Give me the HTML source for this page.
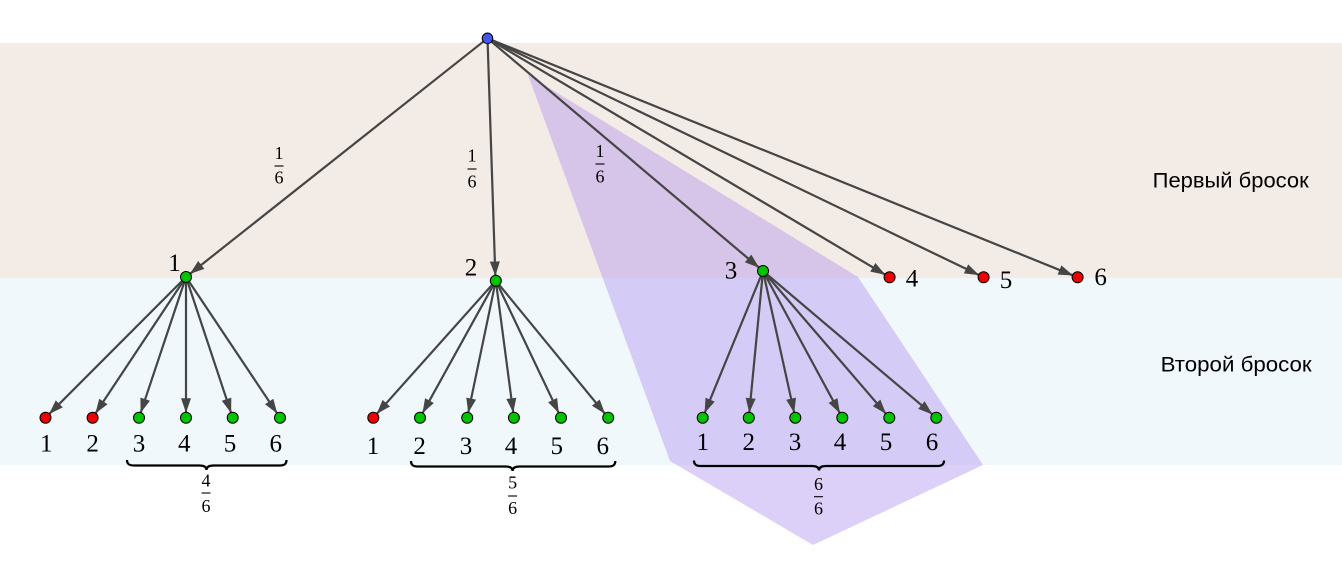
<!DOCTYPE html>
<html>
<head>
<meta charset="utf-8">
<style>
  html, body { margin:0; padding:0; background:#ffffff; }
  body { width:1342px; height:570px; overflow:hidden; }
  svg { display:block; }
  .lbl { font-family:"Liberation Serif", "DejaVu Serif", serif; font-size:25px; fill:#000; text-anchor:middle; }
  .frac { font-family:"Liberation Serif", "DejaVu Serif", serif; font-size:18px; fill:#000; text-anchor:middle; }
  .ru { font-family:"Liberation Sans", "DejaVu Sans", sans-serif; font-size:21px; fill:#000; }
  .e { stroke:#454545; stroke-width:2.2; fill:none; marker-end:url(#ah); }
  .g { fill:#00c400; stroke:#000; stroke-width:1; }
  .r { fill:#ee0000; stroke:#000; stroke-width:1; }
  .b { fill:#4455f0; stroke:#000; stroke-width:1; }
  .br { stroke:#000; stroke-width:2.3; fill:none; }
  .bar { stroke:#000; stroke-width:1.1; }
</style>
</head>
<body>
<svg width="1342" height="570" viewBox="0 0 1342 570" xmlns="http://www.w3.org/2000/svg">
  <defs>
    <marker id="ah" viewBox="-22 -10 22 20" refX="0" refY="0" markerWidth="22" markerHeight="20" markerUnits="userSpaceOnUse" orient="auto" overflow="visible">
      <path d="M -19.5,-5 L -5,0 L -19.5,5 Z" fill="#454545"/>
    </marker>
  </defs>

  <!-- bands -->
  <rect x="0" y="43" width="1342" height="235" fill="#f3ebe6"/>
  <rect x="0" y="278" width="1342" height="187" fill="#f0f8fc"/>

  <!-- purple polygon -->
  <polygon points="528,75 858,277 983,465 813,545 670,461" fill="rgba(170,138,238,0.4)"/>

  <!-- level 1 edges -->
  <line class="e" x1="487.5" y1="38.3" x2="186" y2="277"/>
  <line class="e" x1="487.5" y1="38.3" x2="495.5" y2="281"/>
  <line class="e" x1="487.5" y1="38.3" x2="763" y2="271"/>
  <line class="e" x1="487.5" y1="38.3" x2="889.6" y2="277.3"/>
  <line class="e" x1="487.5" y1="38.3" x2="983.6" y2="277.3"/>
  <line class="e" x1="487.5" y1="38.3" x2="1077.6" y2="277.3"/>

  <!-- tree 1 edges -->
  <line class="e" x1="186" y1="277" x2="45.5" y2="417.7"/>
  <line class="e" x1="186" y1="277" x2="92.6" y2="417.7"/>
  <line class="e" x1="186" y1="277" x2="139" y2="417.7"/>
  <line class="e" x1="186" y1="277" x2="186" y2="417.7"/>
  <line class="e" x1="186" y1="277" x2="232.7" y2="417.7"/>
  <line class="e" x1="186" y1="277" x2="280" y2="417.7"/>

  <!-- tree 2 edges -->
  <line class="e" x1="495.8" y1="280.7" x2="373.3" y2="417.7"/>
  <line class="e" x1="495.8" y1="280.7" x2="420" y2="417.7"/>
  <line class="e" x1="495.8" y1="280.7" x2="467.2" y2="417.7"/>
  <line class="e" x1="495.8" y1="280.7" x2="513.9" y2="417.7"/>
  <line class="e" x1="495.8" y1="280.7" x2="561" y2="417.7"/>
  <line class="e" x1="495.8" y1="280.7" x2="608.2" y2="417.7"/>

  <!-- tree 3 edges -->
  <line class="e" x1="763" y1="271" x2="702.7" y2="417.7"/>
  <line class="e" x1="763" y1="271" x2="748.8" y2="417.7"/>
  <line class="e" x1="763" y1="271" x2="795.3" y2="417.7"/>
  <line class="e" x1="763" y1="271" x2="842.3" y2="417.7"/>
  <line class="e" x1="763" y1="271" x2="889.3" y2="417.7"/>
  <line class="e" x1="763" y1="271" x2="936.3" y2="417.7"/>

  <!-- nodes -->
  <circle class="b" cx="487.5" cy="38.3" r="5.3"/>
  <circle class="g" cx="186" cy="277" r="5.5"/>
  <circle class="g" cx="495.8" cy="280.7" r="5.5"/>
  <circle class="g" cx="763" cy="271" r="5.5"/>
  <circle class="r" cx="889.6" cy="277.3" r="5.5"/>
  <circle class="r" cx="983.6" cy="277.3" r="5.5"/>
  <circle class="r" cx="1077.6" cy="277.3" r="5.5"/>

  <circle class="r" cx="45.5" cy="417.7" r="5.5"/>
  <circle class="r" cx="92.6" cy="417.7" r="5.5"/>
  <circle class="g" cx="139" cy="417.7" r="5.5"/>
  <circle class="g" cx="186" cy="417.7" r="5.5"/>
  <circle class="g" cx="232.7" cy="417.7" r="5.5"/>
  <circle class="g" cx="280" cy="417.7" r="5.5"/>

  <circle class="r" cx="373.3" cy="417.7" r="5.5"/>
  <circle class="g" cx="420" cy="417.7" r="5.5"/>
  <circle class="g" cx="467.2" cy="417.7" r="5.5"/>
  <circle class="g" cx="513.9" cy="417.7" r="5.5"/>
  <circle class="g" cx="561" cy="417.7" r="5.5"/>
  <circle class="g" cx="608.2" cy="417.7" r="5.5"/>

  <circle class="g" cx="702.7" cy="417.7" r="5.5"/>
  <circle class="g" cx="748.8" cy="417.7" r="5.5"/>
  <circle class="g" cx="795.3" cy="417.7" r="5.5"/>
  <circle class="g" cx="842.3" cy="417.7" r="5.5"/>
  <circle class="g" cx="889.3" cy="417.7" r="5.5"/>
  <circle class="g" cx="936.3" cy="417.7" r="5.5"/>

  <!-- level 1 labels -->
  <text class="lbl" x="174.5" y="271">1</text>
  <text class="lbl" x="471" y="275.4">2</text>
  <text class="lbl" x="731" y="278.4">3</text>
  <text class="lbl" x="912" y="286.4">4</text>
  <text class="lbl" x="1006" y="287.9">5</text>
  <text class="lbl" x="1100.6" y="284.9">6</text>

  <!-- leaf labels tree 1 -->
  <text class="lbl" x="46.3" y="451.4">1</text>
  <text class="lbl" x="92.6" y="451.4">2</text>
  <text class="lbl" x="139" y="451.4">3</text>
  <text class="lbl" x="184.3" y="451.4">4</text>
  <text class="lbl" x="230" y="451.4">5</text>
  <text class="lbl" x="275.7" y="451.4">6</text>

  <!-- leaf labels tree 2 -->
  <text class="lbl" x="373" y="454.1">1</text>
  <text class="lbl" x="419.6" y="454.1">2</text>
  <text class="lbl" x="466" y="454.1">3</text>
  <text class="lbl" x="511" y="454.1">4</text>
  <text class="lbl" x="556.8" y="454.1">5</text>
  <text class="lbl" x="602.7" y="454.1">6</text>

  <!-- leaf labels tree 3 -->
  <text class="lbl" x="702.7" y="450.2">1</text>
  <text class="lbl" x="748.7" y="450.2">2</text>
  <text class="lbl" x="795" y="450.2">3</text>
  <text class="lbl" x="840" y="450.2">4</text>
  <text class="lbl" x="886" y="450.2">5</text>
  <text class="lbl" x="932" y="450.2">6</text>

  <!-- edge fractions -->
  <text class="frac" x="279" y="159">1</text>
  <line class="bar" x1="274.5" y1="166" x2="283.5" y2="166"/>
  <text class="frac" x="279" y="183.6">6</text>

  <text class="frac" x="472" y="161.5">1</text>
  <line class="bar" x1="467.5" y1="169" x2="476.5" y2="169"/>
  <text class="frac" x="472" y="187.6">6</text>

  <text class="frac" x="600" y="157">1</text>
  <line class="bar" x1="595.5" y1="164" x2="604.5" y2="164"/>
  <text class="frac" x="600" y="182.6">6</text>

  <!-- braces -->
  <path class="br" d="M127,460 C127,464 129,465.5 134,465.5 L199.5,465.5 C204.5,465.5 206.5,467 206.5,470 C206.5,467 208.5,465.5 213.5,465.5 L279.5,465.5 C284.5,465.5 286.5,464 286.5,460"/>
  <path class="br" d="M411,461 C411,465 413,466.5 418,466.5 L505.6,466.5 C510.6,466.5 512.6,468 512.6,471 C512.6,468 514.6,466.5 519.6,466.5 L608.3,466.5 C613.3,466.5 615.3,465 615.3,461"/>
  <path class="br" d="M694,460.5 C694,464.5 696,466 701,466 L812,466 C817,466 819,467.5 819,470.5 C819,467.5 821,466 826,466 L937,466 C942,466 944,464.5 944,460.5"/>

  <!-- brace fractions -->
  <text class="frac" x="206" y="486.3">4</text>
  <line class="bar" x1="201.5" y1="493" x2="210.5" y2="493"/>
  <text class="frac" x="206" y="511.9">6</text>

  <text class="frac" x="512.6" y="488.7">5</text>
  <line class="bar" x1="508.1" y1="496" x2="517.1" y2="496"/>
  <text class="frac" x="512.6" y="514.1">6</text>

  <text class="frac" x="818.5" y="490">6</text>
  <line class="bar" x1="814" y1="496.7" x2="823" y2="496.7"/>
  <text class="frac" x="818.5" y="514.6">6</text>

  <!-- band titles -->
  <text class="ru" x="1152.7" y="187.3" textLength="156" lengthAdjust="spacingAndGlyphs">Первый бросок</text>
  <text class="ru" x="1160.7" y="371.7" textLength="151" lengthAdjust="spacingAndGlyphs">Второй бросок</text>
</svg>
</body>
</html>
